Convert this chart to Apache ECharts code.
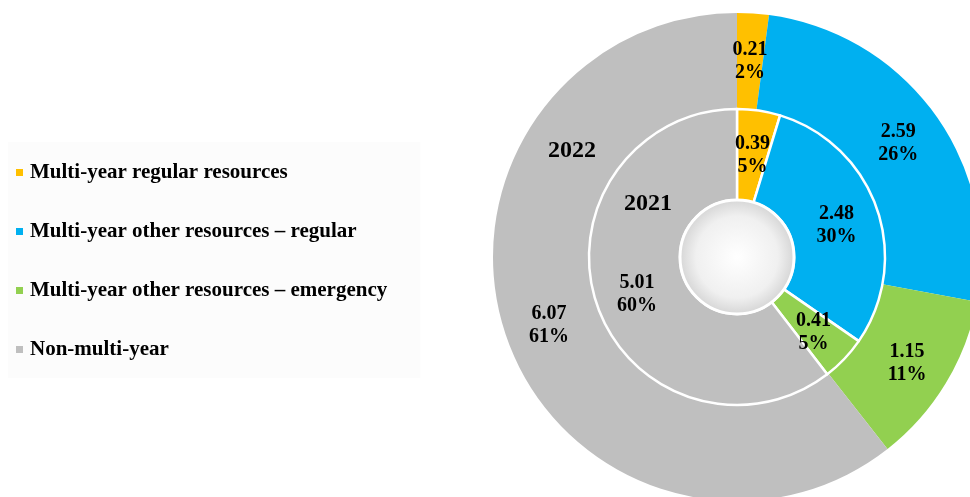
<!DOCTYPE html>
<html>
<head>
<meta charset="utf-8">
<style>
  html, body { margin: 0; padding: 0; background: #ffffff; }
  #chart { width: 970px; height: 497px; }
</style>
<script src="https://cdn.jsdelivr.net/npm/echarts@6/dist/echarts.min.js"></script>
</head>
<body>
<div id="chart"></div>
<script>
// Resource categories shared by both rings
var categories = [
  'Multi-year regular resources',
  'Multi-year other resources \u2013 regular',
  'Multi-year other resources \u2013 emergency',
  'Non-multi-year'
];
var colors = ['#FFC000', '#00B0F0', '#92D050', '#BFBFBF'];

// Amounts per year
var values2022 = [0.21, 2.59, 1.15, 6.07];
var values2021 = [0.39, 2.48, 0.41, 5.01];
var yearLabels = ['2022', '2021'];

var FONT = '"Liberation Serif", "Times New Roman", serif';
var CENTER = [737, 257];

function toData(vals) {
  return vals.map(function (v, i) {
    return { name: categories[i], value: v, itemStyle: { color: colors[i] } };
  });
}

var labelStyle = {
  show: true,
  position: 'inside',
  fontFamily: FONT,
  fontWeight: 'bold',
  fontSize: 20,
  lineHeight: 23,
  offset: [0, 3],
  color: '#000000',
  formatter: function (p) {
    return p.value.toFixed(2) + '\n' + Math.round(p.percent) + '%';
  }
};

var chart = echarts.init(document.getElementById('chart'));
chart.setOption({
  animation: false,
  legend: {
    orient: 'vertical',
    left: 8,
    top: 142,
    padding: [20, 33, 18, 8],
    backgroundColor: '#fcfcfc',
    itemWidth: 7,
    itemHeight: 7,
    itemGap: 38,
    icon: 'rect',
    data: categories,
    textStyle: {
      fontFamily: FONT,
      fontWeight: 'bold',
      fontSize: 21,
      lineHeight: 21,
      color: '#000000',
      padding: [0, 0, 0, 2]
    }
  },
  graphic: [
    {
      type: 'text', left: 548, top: 139, z: 100,
      style: { text: yearLabels[0], font: 'bold 24px ' + FONT, fill: '#000' }
    },
    {
      type: 'text', left: 624, top: 192, z: 100,
      style: { text: yearLabels[1], font: 'bold 24px ' + FONT, fill: '#000' }
    }
  ],
  series: [
    {
      name: yearLabels[0],
      type: 'pie',
      center: CENTER,
      radius: [148, 244],
      startAngle: 90,
      clockwise: true,
      avoidLabelOverlap: false,
      itemStyle: { borderWidth: 0 },
      label: labelStyle,
      labelLine: { show: false },
      emphasis: { disabled: true },
      data: toData(values2022)
    },
    {
      name: yearLabels[1],
      type: 'pie',
      center: CENTER,
      radius: [57, 148],
      startAngle: 90,
      clockwise: true,
      avoidLabelOverlap: false,
      itemStyle: { borderColor: '#ffffff', borderWidth: 2.5 },
      label: labelStyle,
      labelLine: { show: false },
      emphasis: { disabled: true },
      data: toData(values2021)
    },
    {
      // hub in the middle of the rings
      type: 'pie',
      center: CENTER,
      radius: [0, 57],
      silent: true,
      label: { show: false },
      labelLine: { show: false },
      emphasis: { disabled: true },
      itemStyle: {
        borderColor: '#ffffff',
        borderWidth: 3,
        color: {
          type: 'radial', x: 0.5, y: 0.5, r: 0.5,
          colorStops: [
            { offset: 0, color: '#ffffff' },
            { offset: 0.7, color: '#f0f0f0' },
            { offset: 1, color: '#d4d4d4' }
          ]
        }
      },
      data: [{ name: 'hub', value: 1 }]
    }
  ]
});
</script>
</body>
</html>
